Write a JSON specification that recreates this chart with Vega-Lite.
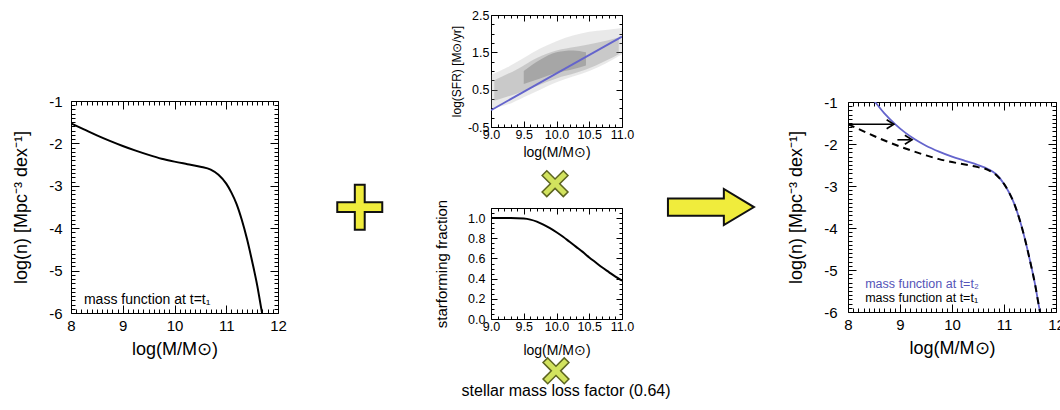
{
"$schema":"https://vega.github.io/schema/vega-lite/v6.json",
"background":"white",
"padding":{"left":12,"top":9,"right":0,"bottom":0},
"spacing":0,
"config":{"view":{"stroke":null},"font":"Liberation Sans","axis":{"grid":false,"domainColor":"#000","tickColor":"#000","labelColor":"#000","titleColor":"#000","titleFontWeight":"normal","labelFont":"Liberation Sans","titleFont":"Liberation Sans","domainWidth":1,"tickWidth":1,"labelFlush":false,"labelOverlap":false}},
"datasets":{
"mf1":[{"m":8.0,"n":-1.53},{"m":8.25,"n":-1.67},{"m":8.5,"n":-1.81},{"m":8.75,"n":-1.94},{"m":9.0,"n":-2.06},{"m":9.25,"n":-2.17},{"m":9.5,"n":-2.27},{"m":9.75,"n":-2.36},{"m":10.0,"n":-2.43},{"m":10.25,"n":-2.49},{"m":10.5,"n":-2.55},{"m":10.7,"n":-2.62},{"m":10.85,"n":-2.74},{"m":11.0,"n":-2.95},{"m":11.1,"n":-3.16},{"m":11.2,"n":-3.43},{"m":11.3,"n":-3.8},{"m":11.4,"n":-4.25},{"m":11.5,"n":-4.78},{"m":11.6,"n":-5.36},{"m":11.67,"n":-5.85},{"m":11.7,"n":-6.05}],
"mf2":[{"m":8.45,"n":-0.9},{"m":8.52,"n":-1.0},{"m":8.7,"n":-1.27},{"m":8.9,"n":-1.52},{"m":9.1,"n":-1.73},{"m":9.3,"n":-1.9},{"m":9.5,"n":-2.04},{"m":9.75,"n":-2.18},{"m":10.0,"n":-2.3},{"m":10.25,"n":-2.4},{"m":10.5,"n":-2.5},{"m":10.7,"n":-2.6},{"m":10.85,"n":-2.72},{"m":11.0,"n":-2.95},{"m":11.1,"n":-3.16},{"m":11.2,"n":-3.43},{"m":11.3,"n":-3.8},{"m":11.4,"n":-4.25},{"m":11.5,"n":-4.78},{"m":11.6,"n":-5.36},{"m":11.67,"n":-5.85},{"m":11.7,"n":-6.05}],
"sfr":[{"m":9.0,"s":-0.05},{"m":11.0,"s":1.92}],
"cloud1":[{"m":9.0,"lo":0.0,"hi":0.9},{"m":9.25,"lo":0.1,"hi":1.1},{"m":9.5,"lo":0.3,"hi":1.35},{"m":9.75,"lo":0.5,"hi":1.6},{"m":10.0,"lo":0.7,"hi":1.8},{"m":10.25,"lo":0.85,"hi":1.95},{"m":10.5,"lo":1.0,"hi":2.05},{"m":10.75,"lo":1.2,"hi":2.1},{"m":11.0,"lo":1.45,"hi":2.15}],
"cloud2":[{"m":9.05,"lo":0.2,"hi":0.75},{"m":9.4,"lo":0.4,"hi":1.05},{"m":9.7,"lo":0.6,"hi":1.35},{"m":10.0,"lo":0.8,"hi":1.55},{"m":10.3,"lo":0.95,"hi":1.65},{"m":10.6,"lo":1.15,"hi":1.75},{"m":10.95,"lo":1.45,"hi":1.9}],
"cloud3":[{"m":9.5,"lo":0.65,"hi":1.0},{"m":9.75,"lo":0.8,"hi":1.3},{"m":10.0,"lo":0.95,"hi":1.5},{"m":10.25,"lo":1.05,"hi":1.55},{"m":10.45,"lo":1.15,"hi":1.5}],
"frac":[{"m":9.0,"f":1.0},{"m":9.3,"f":1.0},{"m":9.5,"f":0.995},{"m":9.6,"f":0.985},{"m":9.7,"f":0.965},{"m":9.8,"f":0.935},{"m":9.9,"f":0.9},{"m":10.0,"f":0.86},{"m":10.1,"f":0.815},{"m":10.2,"f":0.765},{"m":10.3,"f":0.715},{"m":10.4,"f":0.665},{"m":10.5,"f":0.61},{"m":10.6,"f":0.56},{"m":10.7,"f":0.51},{"m":10.8,"f":0.465},{"m":10.9,"f":0.42},{"m":11.0,"f":0.38}]
},
"hconcat":[
 {"bounds":"flush","spacing":0,"vconcat":[
  {"width":207,"height":86,"data":{"values":[]},"mark":"point","encoding":{}},
  {"width":207,"height":212,
   "layer":[
    {"data":{"name":"mf1"},"mark":{"type":"line","color":"#000","strokeWidth":2,"clip":true,"interpolate":"monotone"},
     "encoding":{
      "x":{"field":"m","type":"quantitative","scale":{"domain":[8,12],"nice":false,"zero":false},
       "axis":{"orient":"bottom","values":[8,8.1,8.2,8.3,8.4,8.5,8.6,8.7,8.8,8.9,9,9.1,9.2,9.3,9.4,9.5,9.6,9.7,9.8,9.9,10,10.1,10.2,10.3,10.4,10.5,10.6,10.7,10.8,10.9,11,11.1,11.2,11.3,11.4,11.5,11.6,11.7,11.8,11.9,12],
        "labelExpr":"datum.value % 1 === 0 ? '' + datum.value : ''",
        "tickSize":{"condition":{"test":"datum.value % 1 === 0","value":-8},"value":-4},
        "labelPadding":13,"labelFontSize":15,"title":"log(M/M⊙)","titleFontSize":18,"titlePadding":3}},
      "y":{"field":"n","type":"quantitative","scale":{"domain":[-6,-1],"nice":false,"zero":false},
       "axis":{"orient":"left","values":[-6,-5.9,-5.8,-5.7,-5.6,-5.5,-5.4,-5.3,-5.2,-5.1,-5,-4.9,-4.8,-4.7,-4.6,-4.5,-4.4,-4.3,-4.2,-4.1,-4,-3.9,-3.8,-3.7,-3.6,-3.5,-3.4,-3.3,-3.2,-3.1,-3,-2.9,-2.8,-2.7,-2.6,-2.5,-2.4,-2.3,-2.2,-2.1,-2,-1.9,-1.8,-1.7,-1.6,-1.5,-1.4,-1.3,-1.2,-1.1,-1],
        "labelExpr":"datum.value % 1 === 0 ? '' + datum.value : ''",
        "tickSize":{"condition":{"test":"datum.value % 1 === 0","value":-8},"value":-4},
        "labelPadding":17,"labelFontSize":15,"title":"log(n) [Mpc⁻³ dex⁻¹]","titleFontSize":18,"titlePadding":18}}}},
    {"data":{"values":[{"m":8.25,"n":-5.79,"t":"mass function at t=t₁"}]},"mark":{"type":"text","align":"left","baseline":"alphabetic","fontSize":14,"color":"#000"},
     "encoding":{"x":{"field":"m","type":"quantitative","axis":null},"y":{"field":"n","type":"quantitative","axis":null},"text":{"field":"t"}}},
    {"data":{"values":[{"m":8,"n":-1}]},"mark":{"type":"point","opacity":0},
     "encoding":{
      "x":{"field":"m","type":"quantitative","axis":{"orient":"top","labels":false,"title":null,"values":[8,8.1,8.2,8.3,8.4,8.5,8.6,8.7,8.8,8.9,9,9.1,9.2,9.3,9.4,9.5,9.6,9.7,9.8,9.9,10,10.1,10.2,10.3,10.4,10.5,10.6,10.7,10.8,10.9,11,11.1,11.2,11.3,11.4,11.5,11.6,11.7,11.8,11.9,12],"tickSize":{"condition":{"test":"datum.value % 1 === 0","value":-8},"value":-4}}},
      "y":{"field":"n","type":"quantitative","axis":{"orient":"right","labels":false,"title":null,"values":[-6,-5.9,-5.8,-5.7,-5.6,-5.5,-5.4,-5.3,-5.2,-5.1,-5,-4.9,-4.8,-4.7,-4.6,-4.5,-4.4,-4.3,-4.2,-4.1,-4,-3.9,-3.8,-3.7,-3.6,-3.5,-3.4,-3.3,-3.2,-3.1,-3,-2.9,-2.8,-2.7,-2.6,-2.5,-2.4,-2.3,-2.2,-2.1,-2,-1.9,-1.8,-1.7,-1.6,-1.5,-1.4,-1.3,-1.2,-1.1,-1],"tickSize":{"condition":{"test":"datum.value % 1 === 0","value":-8},"value":-4}}}}}
   ],
   "resolve":{"axis":{"x":"independent","y":"independent"}}}
 ]},
 {"width":147,"height":304,"data":{"values":[{"fx":0.495,"fy":0.632}]},
  "mark":{"type":"point","shape":"M-1,-0.22H-0.22V-1H0.22V-0.22H1V0.22H0.22V1H-0.22V0.22H-1Z","size":2025,"filled":true,"fill":"#f0ec3c","stroke":"#111","strokeWidth":2,"opacity":1},
  "encoding":{"x":{"field":"fx","type":"quantitative","scale":{"domain":[0,1]},"axis":null},"y":{"field":"fy","type":"quantitative","scale":{"domain":[0,1],"reverse":true},"axis":null}}},
 {"bounds":"flush","spacing":0,"vconcat":[
  {"width":131,"height":112,
   "layer":[
    {"data":{"name":"cloud1"},"mark":{"type":"area","color":"#999","opacity":0.22,"interpolate":"monotone","clip":true},
     "encoding":{
      "x":{"field":"m","type":"quantitative","scale":{"domain":[9,11],"nice":false,"zero":false},
       "axis":{"orient":"bottom","values":[9,9.1,9.2,9.3,9.4,9.5,9.6,9.7,9.8,9.9,10,10.1,10.2,10.3,10.4,10.5,10.6,10.7,10.8,10.9,11],
        "labelExpr":"(datum.value*2) % 1 === 0 ? replace(format(datum.value,'.1f'),'−','-') : ''",
        "tickSize":{"condition":{"test":"(datum.value*2) % 1 === 0","value":-6},"value":-3},
        "labelPadding":7,"labelFontSize":12.5,"title":"log(M/M⊙)","titleFontSize":14,"titlePadding":2}},
      "y":{"field":"lo","type":"quantitative","scale":{"domain":[-0.5,2.5],"nice":false,"zero":false},
       "axis":{"orient":"left","values":[-0.5,-0.25,0,0.25,0.5,0.75,1,1.25,1.5,1.75,2,2.25,2.5],
        "labelExpr":"(datum.value+0.5) % 1 === 0 ? replace(format(datum.value,'.1f'),'−','-') : ''",
        "tickSize":{"condition":{"test":"(datum.value+0.5) % 1 === 0","value":-6},"value":-3},
        "labelPadding":8,"labelFontSize":12.5,"title":"log(SFR) [M⊙/yr]","titleFontSize":12,"titlePadding":4}},
      "y2":{"field":"hi"}}},
    {"data":{"name":"cloud2"},"mark":{"type":"area","color":"#777","opacity":0.28,"interpolate":"monotone","clip":true},
     "encoding":{"x":{"field":"m","type":"quantitative","axis":null},"y":{"field":"lo","type":"quantitative","axis":null},"y2":{"field":"hi"}}},
    {"data":{"name":"cloud3"},"mark":{"type":"area","color":"#555","opacity":0.3,"interpolate":"monotone","clip":true},
     "encoding":{"x":{"field":"m","type":"quantitative","axis":null},"y":{"field":"lo","type":"quantitative","axis":null},"y2":{"field":"hi"}}},
    {"data":{"name":"sfr"},"mark":{"type":"line","color":"#6464cc","strokeWidth":1.8,"clip":true},
     "encoding":{"x":{"field":"m","type":"quantitative","axis":null},"y":{"field":"s","type":"quantitative","axis":null}}},
    {"data":{"values":[{"m":9,"s":0}]},"mark":{"type":"point","opacity":0},
     "encoding":{
      "x":{"field":"m","type":"quantitative","axis":{"orient":"top","labels":false,"title":null,"values":[9,9.1,9.2,9.3,9.4,9.5,9.6,9.7,9.8,9.9,10,10.1,10.2,10.3,10.4,10.5,10.6,10.7,10.8,10.9,11],"tickSize":{"condition":{"test":"(datum.value*2) % 1 === 0","value":-6},"value":-3}}},
      "y":{"field":"s","type":"quantitative","axis":{"orient":"right","labels":false,"title":null,"values":[-0.5,-0.25,0,0.25,0.5,0.75,1,1.25,1.5,1.75,2,2.25,2.5],"tickSize":{"condition":{"test":"(datum.value+0.5) % 1 === 0","value":-6},"value":-3}}}}}
   ],
   "resolve":{"axis":{"x":"independent","y":"independent"}}},
  {"width":131,"height":81,
   "layer":[
    {"data":{"values":[{"fx":0.489,"fy":0.70}]},
     "mark":{"type":"point","shape":"M-1,-0.22H-0.22V-1H0.22V-0.22H1V0.22H0.22V1H-0.22V0.22H-1Z","angle":45,"size":900,"filled":true,"fill":"#d2e35e","stroke":"#5c6420","strokeWidth":1.5,"opacity":1},
     "encoding":{"x":{"field":"fx","type":"quantitative","scale":{"domain":[0,1]},"axis":null},"y":{"field":"fy","type":"quantitative","scale":{"domain":[0,1],"reverse":true},"axis":null}}},
    {"data":{"values":[{"fx":1.679,"fy":0.988}]},
     "mark":{"type":"point","shape":"M-1,-0.2H0.3V-0.42L1,0L0.3,0.42V0.2H-1Z","size":7396,"filled":true,"fill":"#f0ec3c","stroke":"#111","strokeWidth":2,"opacity":1},
     "encoding":{"x":{"field":"fx","type":"quantitative","axis":null},"y":{"field":"fy","type":"quantitative","axis":null}}}
   ]},
  {"width":131,"height":111,
   "layer":[
    {"data":{"name":"frac"},"mark":{"type":"line","color":"#000","strokeWidth":2,"clip":true,"interpolate":"monotone"},
     "encoding":{
      "x":{"field":"m","type":"quantitative","scale":{"domain":[9,11],"nice":false,"zero":false},
       "axis":{"orient":"bottom","values":[9,9.1,9.2,9.3,9.4,9.5,9.6,9.7,9.8,9.9,10,10.1,10.2,10.3,10.4,10.5,10.6,10.7,10.8,10.9,11],
        "labelExpr":"(datum.value*2) % 1 === 0 ? replace(format(datum.value,'.1f'),'−','-') : ''",
        "tickSize":{"condition":{"test":"(datum.value*2) % 1 === 0","value":-6},"value":-3},
        "labelPadding":7,"labelFontSize":12.5,"title":"log(M/M⊙)","titleFontSize":14,"titlePadding":8}},
      "y":{"field":"f","type":"quantitative","scale":{"domain":[0,1.1],"nice":false,"zero":false},
       "axis":{"orient":"left","values":[0,0.05,0.1,0.15,0.2,0.25,0.3,0.35,0.4,0.45,0.5,0.55,0.6,0.65,0.7,0.75,0.8,0.85,0.9,0.95,1,1.05,1.1],
        "labelExpr":"abs(datum.value*5-round(datum.value*5)) < 0.001 ? format(datum.value,'.1f') : ''",
        "tickSize":{"condition":{"test":"abs(datum.value*5-round(datum.value*5)) < 0.001","value":-6},"value":-3},
        "labelPadding":12,"labelFontSize":12.5,"title":"starforming fraction","titleFontSize":15,"titlePadding":18}}}},
    {"data":{"values":[{"m":9,"f":0}]},"mark":{"type":"point","opacity":0},
     "encoding":{
      "x":{"field":"m","type":"quantitative","axis":{"orient":"top","labels":false,"title":null,"values":[9,9.1,9.2,9.3,9.4,9.5,9.6,9.7,9.8,9.9,10,10.1,10.2,10.3,10.4,10.5,10.6,10.7,10.8,10.9,11],"tickSize":{"condition":{"test":"(datum.value*2) % 1 === 0","value":-6},"value":-3}}},
      "y":{"field":"f","type":"quantitative","axis":{"orient":"right","labels":false,"title":null,"values":[0,0.05,0.1,0.15,0.2,0.25,0.3,0.35,0.4,0.45,0.5,0.55,0.6,0.65,0.7,0.75,0.8,0.85,0.9,0.95,1,1.05,1.1],"tickSize":{"condition":{"test":"abs(datum.value*5-round(datum.value*5)) < 0.001","value":-6},"value":-3}}}}}
   ],
   "resolve":{"axis":{"x":"independent","y":"independent"}}},
  {"width":131,"height":85,
   "layer":[
    {"data":{"values":[{"fx":0.496,"fy":0.61}]},
     "mark":{"type":"point","shape":"M-1,-0.22H-0.22V-1H0.22V-0.22H1V0.22H0.22V1H-0.22V0.22H-1Z","angle":45,"size":900,"filled":true,"fill":"#d2e35e","stroke":"#5c6420","strokeWidth":1.5,"opacity":1},
     "encoding":{"x":{"field":"fx","type":"quantitative","scale":{"domain":[0,1]},"axis":null},"y":{"field":"fy","type":"quantitative","scale":{"domain":[0,1],"reverse":true},"axis":null}}},
    {"data":{"values":[{"fx":0.573,"fy":0.906,"t":"stellar mass loss factor (0.64)"}]},
     "mark":{"type":"text","align":"center","baseline":"alphabetic","fontSize":16,"color":"#000"},
     "encoding":{"x":{"field":"fx","type":"quantitative","axis":null},"y":{"field":"fy","type":"quantitative","axis":null},"text":{"field":"t"}}}
   ]}
 ]},
 {"width":29,"height":304,"data":{"values":[]},"mark":"point","encoding":{}},
 {"bounds":"flush","spacing":0,"vconcat":[
  {"width":208,"height":87,"data":{"values":[]},"mark":"point","encoding":{}},
  {"width":208,"height":210,
   "layer":[
    {"data":{"name":"mf2"},"mark":{"type":"line","color":"#6464cc","strokeWidth":1.8,"clip":true,"interpolate":"monotone"},
     "encoding":{
      "x":{"field":"m","type":"quantitative","scale":{"domain":[8,12],"nice":false,"zero":false},
       "axis":{"orient":"bottom","values":[8,8.1,8.2,8.3,8.4,8.5,8.6,8.7,8.8,8.9,9,9.1,9.2,9.3,9.4,9.5,9.6,9.7,9.8,9.9,10,10.1,10.2,10.3,10.4,10.5,10.6,10.7,10.8,10.9,11,11.1,11.2,11.3,11.4,11.5,11.6,11.7,11.8,11.9,12],
        "labelExpr":"datum.value % 1 === 0 ? '' + datum.value : ''",
        "tickSize":{"condition":{"test":"datum.value % 1 === 0","value":-8},"value":-4},
        "labelPadding":13,"labelFontSize":15,"title":"log(M/M⊙)","titleFontSize":18,"titlePadding":3}},
      "y":{"field":"n","type":"quantitative","scale":{"domain":[-6,-1],"nice":false,"zero":false},
       "axis":{"orient":"left","values":[-6,-5.9,-5.8,-5.7,-5.6,-5.5,-5.4,-5.3,-5.2,-5.1,-5,-4.9,-4.8,-4.7,-4.6,-4.5,-4.4,-4.3,-4.2,-4.1,-4,-3.9,-3.8,-3.7,-3.6,-3.5,-3.4,-3.3,-3.2,-3.1,-3,-2.9,-2.8,-2.7,-2.6,-2.5,-2.4,-2.3,-2.2,-2.1,-2,-1.9,-1.8,-1.7,-1.6,-1.5,-1.4,-1.3,-1.2,-1.1,-1],
        "labelExpr":"datum.value % 1 === 0 ? '' + datum.value : ''",
        "tickSize":{"condition":{"test":"datum.value % 1 === 0","value":-8},"value":-4},
        "labelPadding":19,"labelFontSize":15,"title":"log(n) [Mpc⁻³ dex⁻¹]","titleFontSize":18,"titlePadding":18}}}},
    {"data":{"name":"mf1"},"mark":{"type":"line","color":"#000","strokeWidth":2,"strokeDash":[7,5],"clip":true,"interpolate":"monotone"},
     "encoding":{"x":{"field":"m","type":"quantitative","axis":null},"y":{"field":"n","type":"quantitative","axis":null}}},
    {"data":{"values":[{"a":8.0,"b":8.85,"n":-1.53},{"a":8.95,"b":9.2,"n":-1.9}]},"mark":{"type":"rule","color":"#000","strokeWidth":1.6},
     "encoding":{"x":{"field":"a","type":"quantitative","axis":null},"x2":{"field":"b"},"y":{"field":"n","type":"quantitative","axis":null}}},
    {"data":{"values":[{"m":8.83,"n":-1.53},{"m":9.18,"n":-1.9}]},"mark":{"type":"point","shape":"M-1,-1L0.6,0L-1,1","filled":false,"stroke":"#000","strokeWidth":1.6,"size":81,"opacity":1},
     "encoding":{"x":{"field":"m","type":"quantitative","axis":null},"y":{"field":"n","type":"quantitative","axis":null}}},
    {"data":{"values":[{"m":8.33,"n":-5.43,"t":"mass function at t=t₂"}]},"mark":{"type":"text","align":"left","baseline":"alphabetic","fontSize":12.5,"color":"#5555b8"},
     "encoding":{"x":{"field":"m","type":"quantitative","axis":null},"y":{"field":"n","type":"quantitative","axis":null},"text":{"field":"t"}}},
    {"data":{"values":[{"m":8.33,"n":-5.75,"t":"mass function at t=t₁"}]},"mark":{"type":"text","align":"left","baseline":"alphabetic","fontSize":12.5,"color":"#000"},
     "encoding":{"x":{"field":"m","type":"quantitative","axis":null},"y":{"field":"n","type":"quantitative","axis":null},"text":{"field":"t"}}},
    {"data":{"values":[{"m":8,"n":-1}]},"mark":{"type":"point","opacity":0},
     "encoding":{
      "x":{"field":"m","type":"quantitative","axis":{"orient":"top","labels":false,"title":null,"values":[8,8.1,8.2,8.3,8.4,8.5,8.6,8.7,8.8,8.9,9,9.1,9.2,9.3,9.4,9.5,9.6,9.7,9.8,9.9,10,10.1,10.2,10.3,10.4,10.5,10.6,10.7,10.8,10.9,11,11.1,11.2,11.3,11.4,11.5,11.6,11.7,11.8,11.9,12],"tickSize":{"condition":{"test":"datum.value % 1 === 0","value":-8},"value":-4}}},
      "y":{"field":"n","type":"quantitative","axis":{"orient":"right","labels":false,"title":null,"values":[-6,-5.9,-5.8,-5.7,-5.6,-5.5,-5.4,-5.3,-5.2,-5.1,-5,-4.9,-4.8,-4.7,-4.6,-4.5,-4.4,-4.3,-4.2,-4.1,-4,-3.9,-3.8,-3.7,-3.6,-3.5,-3.4,-3.3,-3.2,-3.1,-3,-2.9,-2.8,-2.7,-2.6,-2.5,-2.4,-2.3,-2.2,-2.1,-2,-1.9,-1.8,-1.7,-1.6,-1.5,-1.4,-1.3,-1.2,-1.1,-1],"tickSize":{"condition":{"test":"datum.value % 1 === 0","value":-8},"value":-4}}}}}
   ],
   "resolve":{"axis":{"x":"independent","y":"independent"}}}
 ]}
]
}
